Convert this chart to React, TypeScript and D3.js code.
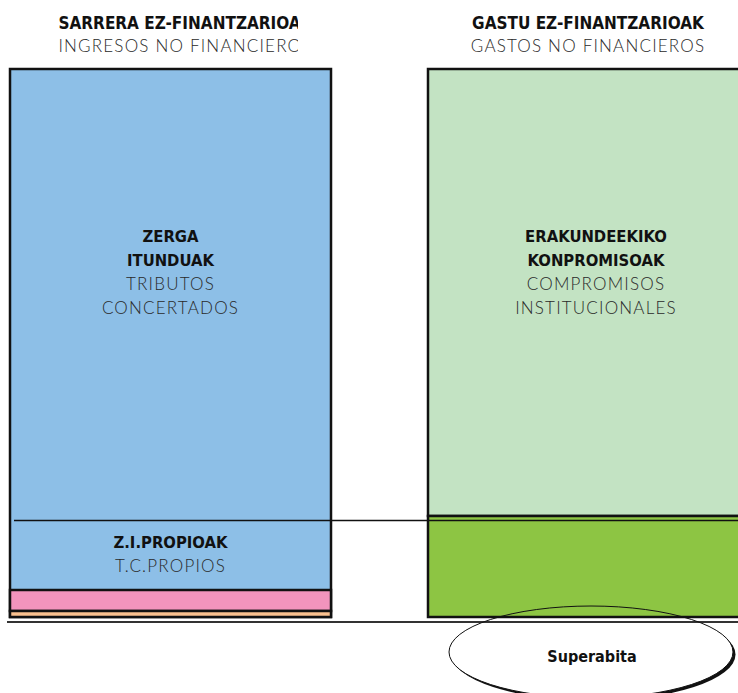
import React from 'react';
import * as d3 from 'd3';

// values (relative units, both bars same total), listed top to bottom
const columns = ['sarrerak', 'gastuak'];
const incomeNames = ['ZERGA ITUNDUAK', 'Z.I.PROPIOAK', 'BESTE', 'BESTE2'];
const incomeValues = [451, 70, 21, 6];
const incomeColors = ['#8dbfe7', '#8dbfe7', '#f294bd', '#f9c08e'];
const expenseNames = ['ERAKUNDEEKIKO KONPROMISOAK', 'GASTU PROPIOAK'];
const expenseValues = [447, 101];
const expenseColors = ['#c3e3c3', '#8dc543'];

const titlesBold = ['SARRERA EZ-FINANTZARIOAK', 'GASTU EZ-FINANTZARIOAK'];
const titlesLight = ['INGRESOS NO FINANCIEROS', 'GASTOS NO FINANCIEROS'];
const bigBold = [['ZERGA', 'ITUNDUAK'], ['ERAKUNDEEKIKO', 'KONPROMISOAK']];
const bigLight = [['TRIBUTOS', 'CONCERTADOS'], ['COMPROMISOS', 'INSTITUCIONALES']];
const smallBold = 'Z.I.PROPIOAK';
const smallLight = 'T.C.PROPIOS';
const balanceLabel = 'Superabita';

const W = 738;
const H = 693;
const boldFont = '"DejaVu Sans Condensed", "DejaVu Sans", sans-serif';
const lightFont = 'Lato, "Open Sans", sans-serif';

// cumulative from the top of the bar down
const stackDown = (vals: number[]) => {
  let acc = 0;
  return vals.map(v => {
    const d = { y0: acc, y1: acc + v };
    acc += v;
    return d;
  });
};

export default function App() {
  const total = d3.sum(incomeValues);
  const y = d3.scaleLinear().domain([0, total]).range([69, 617]);
  const x = d3.scaleBand<string>().domain(columns).range([10, 749]).paddingInner(97 / 418).paddingOuter(0);
  const bw = x.bandwidth();

  const inc = stackDown(incomeValues);
  const exp = stackDown(expenseValues);
  const x0 = x('sarrerak')!;
  const x1 = x('gastuak')!;
  const sepY = y(inc[0].y1) + 0.5;
  const baseY = 622;

  const lightProps = { fontFamily: lightFont, fontWeight: 300, fontSize: 17, letterSpacing: 1.2, fill: '#2a2a2a' };
  const boldProps = { fontFamily: boldFont, fontWeight: 'bold', fontSize: 16.5, fill: '#111' };

  const ell = { cx: 591, cy: 652, rx: 142, ry: 46 };

  return (
    <svg width={W} height={H} style={{ position: 'absolute', left: 0, top: 0, background: '#fff' }}>
      <defs>
        <clipPath id="leftClip">
          <rect x={0} y={0} width={298} height={60} />
        </clipPath>
        <clipPath id="belowBase">
          <rect x={0} y={baseY + 1} width={W} height={H - baseY} />
        </clipPath>
      </defs>

      {/* income bar */}
      <rect x={x0} y={y(0)} width={bw} height={y(total) - y(0)} fill={incomeColors[0]} stroke="#111" strokeWidth={2.5} />
      {inc.slice(2).map((d, i) => (
        <rect key={i} x={x0} y={y(d.y0)} width={bw} height={y(d.y1) - y(d.y0)}
          fill={incomeColors[i + 2]} stroke="#111" strokeWidth={2.5} />
      ))}

      {/* expense bar */}
      {exp.map((d, i) => (
        <rect key={i} x={x1} y={y(d.y0)} width={bw} height={y(d.y1) - y(d.y0)}
          fill={expenseColors[i]} stroke="#111" strokeWidth={2.5} />
      ))}

      {/* separator and baseline */}
      <line x1={14} x2={W} y1={sepY} y2={sepY} stroke="#111" strokeWidth={1.5} />
      <line x1={7} x2={W} y1={baseY} y2={baseY} stroke="#333" strokeWidth={1.8} />

      {/* titles */}
      <g clipPath="url(#leftClip)">
        <text x={x0 + bw / 2 + 15} y={29} textAnchor="middle" {...boldProps} fontSize={17}>{titlesBold[0]}</text>
        <text x={x0 + bw / 2 + 15} y={52} textAnchor="middle" {...lightProps}>{titlesLight[0]}</text>
      </g>
      <text x={588} y={29} textAnchor="middle" {...boldProps} fontSize={17}>{titlesBold[1]}</text>
      <text x={588} y={52} textAnchor="middle" {...lightProps}>{titlesLight[1]}</text>

      {/* segment labels */}
      {[x0 + bw / 2, x1 + 168].map((cx, i) => (
        <g key={i} textAnchor="middle">
          {bigBold[i].map((t, j) => (
            <text key={'b' + j} x={cx} y={242 + j * 24} {...boldProps}>{t}</text>
          ))}
          {bigLight[i].map((t, j) => (
            <text key={'l' + j} x={cx} y={290 + j * 24} {...lightProps}>{t}</text>
          ))}
        </g>
      ))}
      <text x={x0 + bw / 2} y={548} textAnchor="middle" {...boldProps}>{smallBold}</text>
      <text x={x0 + bw / 2} y={572} textAnchor="middle" {...lightProps}>{smallLight}</text>

      {/* superavit bubble: shadow + white fill only below the baseline, outline everywhere */}
      <g clipPath="url(#belowBase)">
        <ellipse {...ell} fill="#111" transform="translate(2.5,2.5)" />
        <ellipse {...ell} fill="#fff" />
      </g>
      <ellipse {...ell} fill="none" stroke="#111" strokeWidth={1} />
      <text x={592} y={662} textAnchor="middle" {...boldProps} fontSize={16}>{balanceLabel}</text>
    </svg>
  );
}
